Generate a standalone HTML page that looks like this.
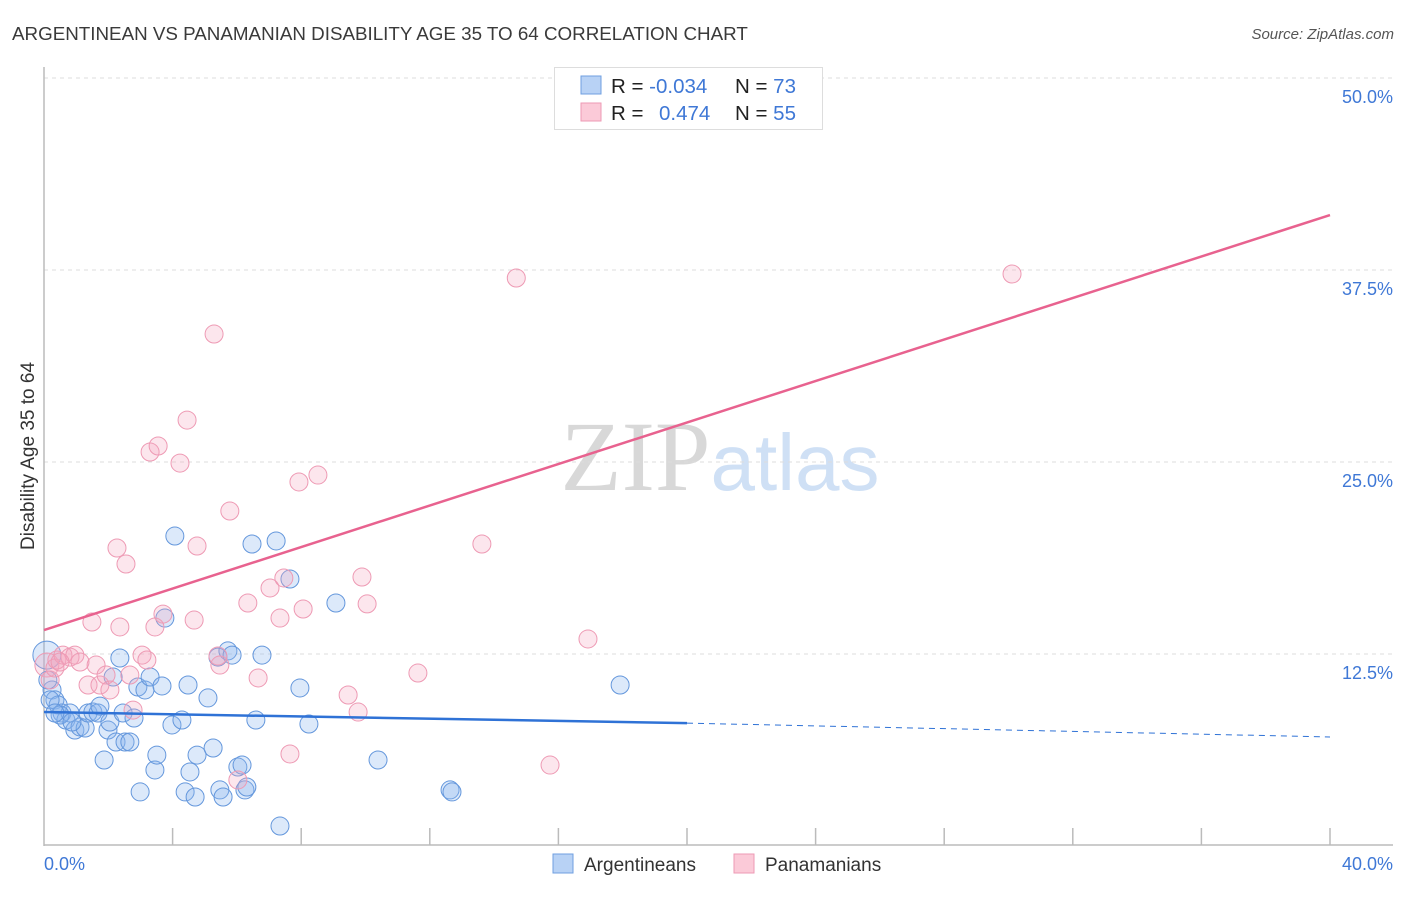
<!DOCTYPE html>
<html><head><meta charset="utf-8"><style>
body{margin:0;background:#fff;font-family:"Liberation Sans",sans-serif;}
svg text{font-family:"Liberation Sans",sans-serif;}
</style></head><body>
<svg id="chart" width="1406" height="892" viewBox="0 0 1406 892">
<text x="12" y="40" font-size="18.8" fill="#3a3a3a">ARGENTINEAN VS PANAMANIAN DISABILITY AGE 35 TO 64 CORRELATION CHART</text>
<text x="1394" y="39" font-size="15" font-style="italic" fill="#555" text-anchor="end">Source: ZipAtlas.com</text>
<text x="720" y="490" font-size="100" text-anchor="middle"><tspan font-family="Liberation Serif" fill="#d8d8d8">ZIP</tspan><tspan fill="#cfe0f5" font-size="80">atlas</tspan></text>
<text transform="translate(34,456) rotate(-90)" font-size="19" fill="#333" text-anchor="middle">Disability Age 35 to 64</text>
<g id="grid"></g>
<g id="axes"></g>
<g id="points"></g>
<g id="lines"></g>
<g>
<rect x="554.5" y="67.5" width="268" height="62" fill="#fff" stroke="#ddd"/>
<rect x="581" y="76" width="20" height="18" fill="#b8d2f5" stroke="#6f9fe0"/>
<rect x="581" y="103" width="20" height="18" fill="#fbcad8" stroke="#ee9ab4"/>
<text x="611" y="93" font-size="20.5" fill="#222">R = <tspan fill="#3f78d6">-0.034</tspan></text>
<text x="735" y="93" font-size="20.5" fill="#222">N = <tspan fill="#3f78d6">73</tspan></text>
<text x="611" y="120" font-size="20.5" fill="#222">R = <tspan fill="#3f78d6" x="659">0.474</tspan></text>
<text x="735" y="120" font-size="20.5" fill="#222">N = <tspan fill="#3f78d6">55</tspan></text>
</g>
<g>
<rect x="553" y="854" width="20" height="19" fill="#b8d2f5" stroke="#6f9fe0"/>
<text x="584" y="871" font-size="19" fill="#333">Argentineans</text>
<rect x="734" y="854" width="20" height="19" fill="#fbcad8" stroke="#ee9ab4"/>
<text x="765" y="871" font-size="19" fill="#333">Panamanians</text>
</g>
</svg>
<script>
const yTicks=[12.5,25.0,37.5,50.0];
const xTickLabels=["0.0%","40.0%"];
const blueX=[0.09,0.25,0.34,0.44,0.56,0.68,0.81,0.96,1.12,1.28,1.37,1.52,1.68,1.74,1.87,1.99,2.05,2.15,2.24,2.36,2.46,2.52,2.67,2.80,2.92,2.99,3.14,3.30,3.45,3.51,3.67,3.76,3.98,4.07,4.29,4.39,4.48,4.54,4.70,4.76,5.10,5.26,5.41,5.47,5.57,5.72,6.03,6.16,6.25,6.31,6.47,6.59,6.78,7.22,7.34,7.65,7.96,8.24,9.08,10.39,12.63,12.69,17.92,5.85,0.12,0.19,0.50,0.87,0.34];
const blueY=[12.43,10.16,9.51,9.18,8.66,8.20,8.66,7.55,7.75,7.68,8.66,8.72,8.66,9.11,5.60,7.55,8.07,11.00,6.77,12.24,8.66,6.77,6.77,8.33,10.35,3.52,10.16,11.00,4.95,5.92,10.42,14.84,7.88,20.18,8.20,3.52,10.48,4.82,3.19,5.92,9.64,6.38,12.30,3.65,3.19,12.70,5.14,5.27,3.65,3.84,19.66,8.20,12.43,19.86,1.30,17.38,10.29,7.94,15.82,5.60,3.65,3.52,10.48,12.43,10.81,9.51,8.53,8.07,8.66];
const pinkX=[0.09,0.19,0.34,0.40,0.59,0.81,0.96,1.12,1.37,1.49,1.62,1.74,1.93,2.05,2.27,2.36,2.55,2.67,2.77,3.05,3.20,3.30,3.45,3.55,3.70,4.23,4.45,4.67,4.76,5.29,5.41,5.47,5.78,6.03,6.34,6.66,7.03,7.34,7.46,7.65,7.93,8.06,8.52,9.46,9.77,9.89,10.05,11.63,13.62,14.69,15.74,16.92,18.29,30.11,0.50];
const pinkY=[11.78,10.81,11.59,12.11,12.43,12.30,12.43,11.98,10.48,14.58,11.78,10.48,11.13,10.16,19.40,14.26,18.36,11.13,8.85,12.43,12.11,25.65,14.26,26.04,15.10,24.93,27.73,14.71,19.53,33.33,12.37,11.78,21.81,4.30,15.82,10.94,16.80,14.84,17.45,5.99,23.70,15.43,24.15,9.83,8.72,17.51,15.76,11.26,19.66,36.98,5.27,13.48,49.93,37.24,11.98];
const pinkTrend=[14.06,41.08];
const blueTrend=[8.72,8.0,7.1];
const NS="http://www.w3.org/2000/svg";
const X=v=>44+v/40*1286;
const Y=v=>846-v/12.5*192;
function mk(tag,attrs,parent){const e=document.createElementNS(NS,tag);for(const k in attrs)e.setAttribute(k,attrs[k]);parent.appendChild(e);return e;}
const grid=document.getElementById('grid'),axes=document.getElementById('axes'),pts=document.getElementById('points'),lines=document.getElementById('lines');
yTicks.forEach(t=>{
 const l=mk('line',{x1:44,x2:1393,y1:Y(t),y2:Y(t),stroke:'#ddd','stroke-dasharray':'4 4'},grid);
 
 
 const tx=mk('text',{x:1393,y:Y(t)+25,'font-size':18,fill:'#3f78d6','text-anchor':'end'},grid);
 tx.textContent=t.toFixed(1)+'%';
 
 
});
const ya=mk('line',{x1:44,x2:44,y1:67,y2:846,stroke:'#bbb','stroke-width':1.5},axes);


const xa=mk('line',{x1:44,x2:1393,y1:845,y2:845,stroke:'#bbb','stroke-width':1.5},axes);


for(let i=1;i<=10;i++){
 const t=mk('line',{x1:X(i*4),x2:X(i*4),y1:828,y2:845,stroke:'#bbb','stroke-width':1.5},axes);
 
 
}
[[0,'start'],[40,'end']].forEach((p,i)=>{
 const t=mk('text',{x:i?1393:44,y:870,'font-size':18,fill:'#3f78d6','text-anchor':p[1]},axes);
 t.textContent=xTickLabels[i];
 
 
});
blueX.forEach((v,i)=>{
 const c=mk('circle',{cx:X(v),cy:Y(blueY[i]),r:i===0?14:9,fill:'rgba(140,182,238,0.3)',stroke:'#6497dc','stroke-width':1},pts);
 
 
});
pinkX.forEach((v,i)=>{
 const c=mk('circle',{cx:X(v),cy:Y(pinkY[i]),r:i===0?12:9,fill:'rgba(245,165,190,0.28)',stroke:'#ee9ab4','stroke-width':1},pts);
 
 
});
const pl=mk('line',{x1:X(0),y1:Y(pinkTrend[0]),x2:X(40),y2:Y(pinkTrend[1]),stroke:'#e8628f','stroke-width':2.5},lines);


const bl=mk('line',{x1:X(0),y1:Y(blueTrend[0]),x2:X(20),y2:Y(blueTrend[1]),stroke:'#2f72d6','stroke-width':2.5},lines);


const bd=mk('line',{x1:X(20),y1:Y(blueTrend[1]),x2:X(40),y2:Y(blueTrend[2]),stroke:'#2f72d6','stroke-width':1,'stroke-dasharray':'6 5'},lines);


</script>
</body></html>
